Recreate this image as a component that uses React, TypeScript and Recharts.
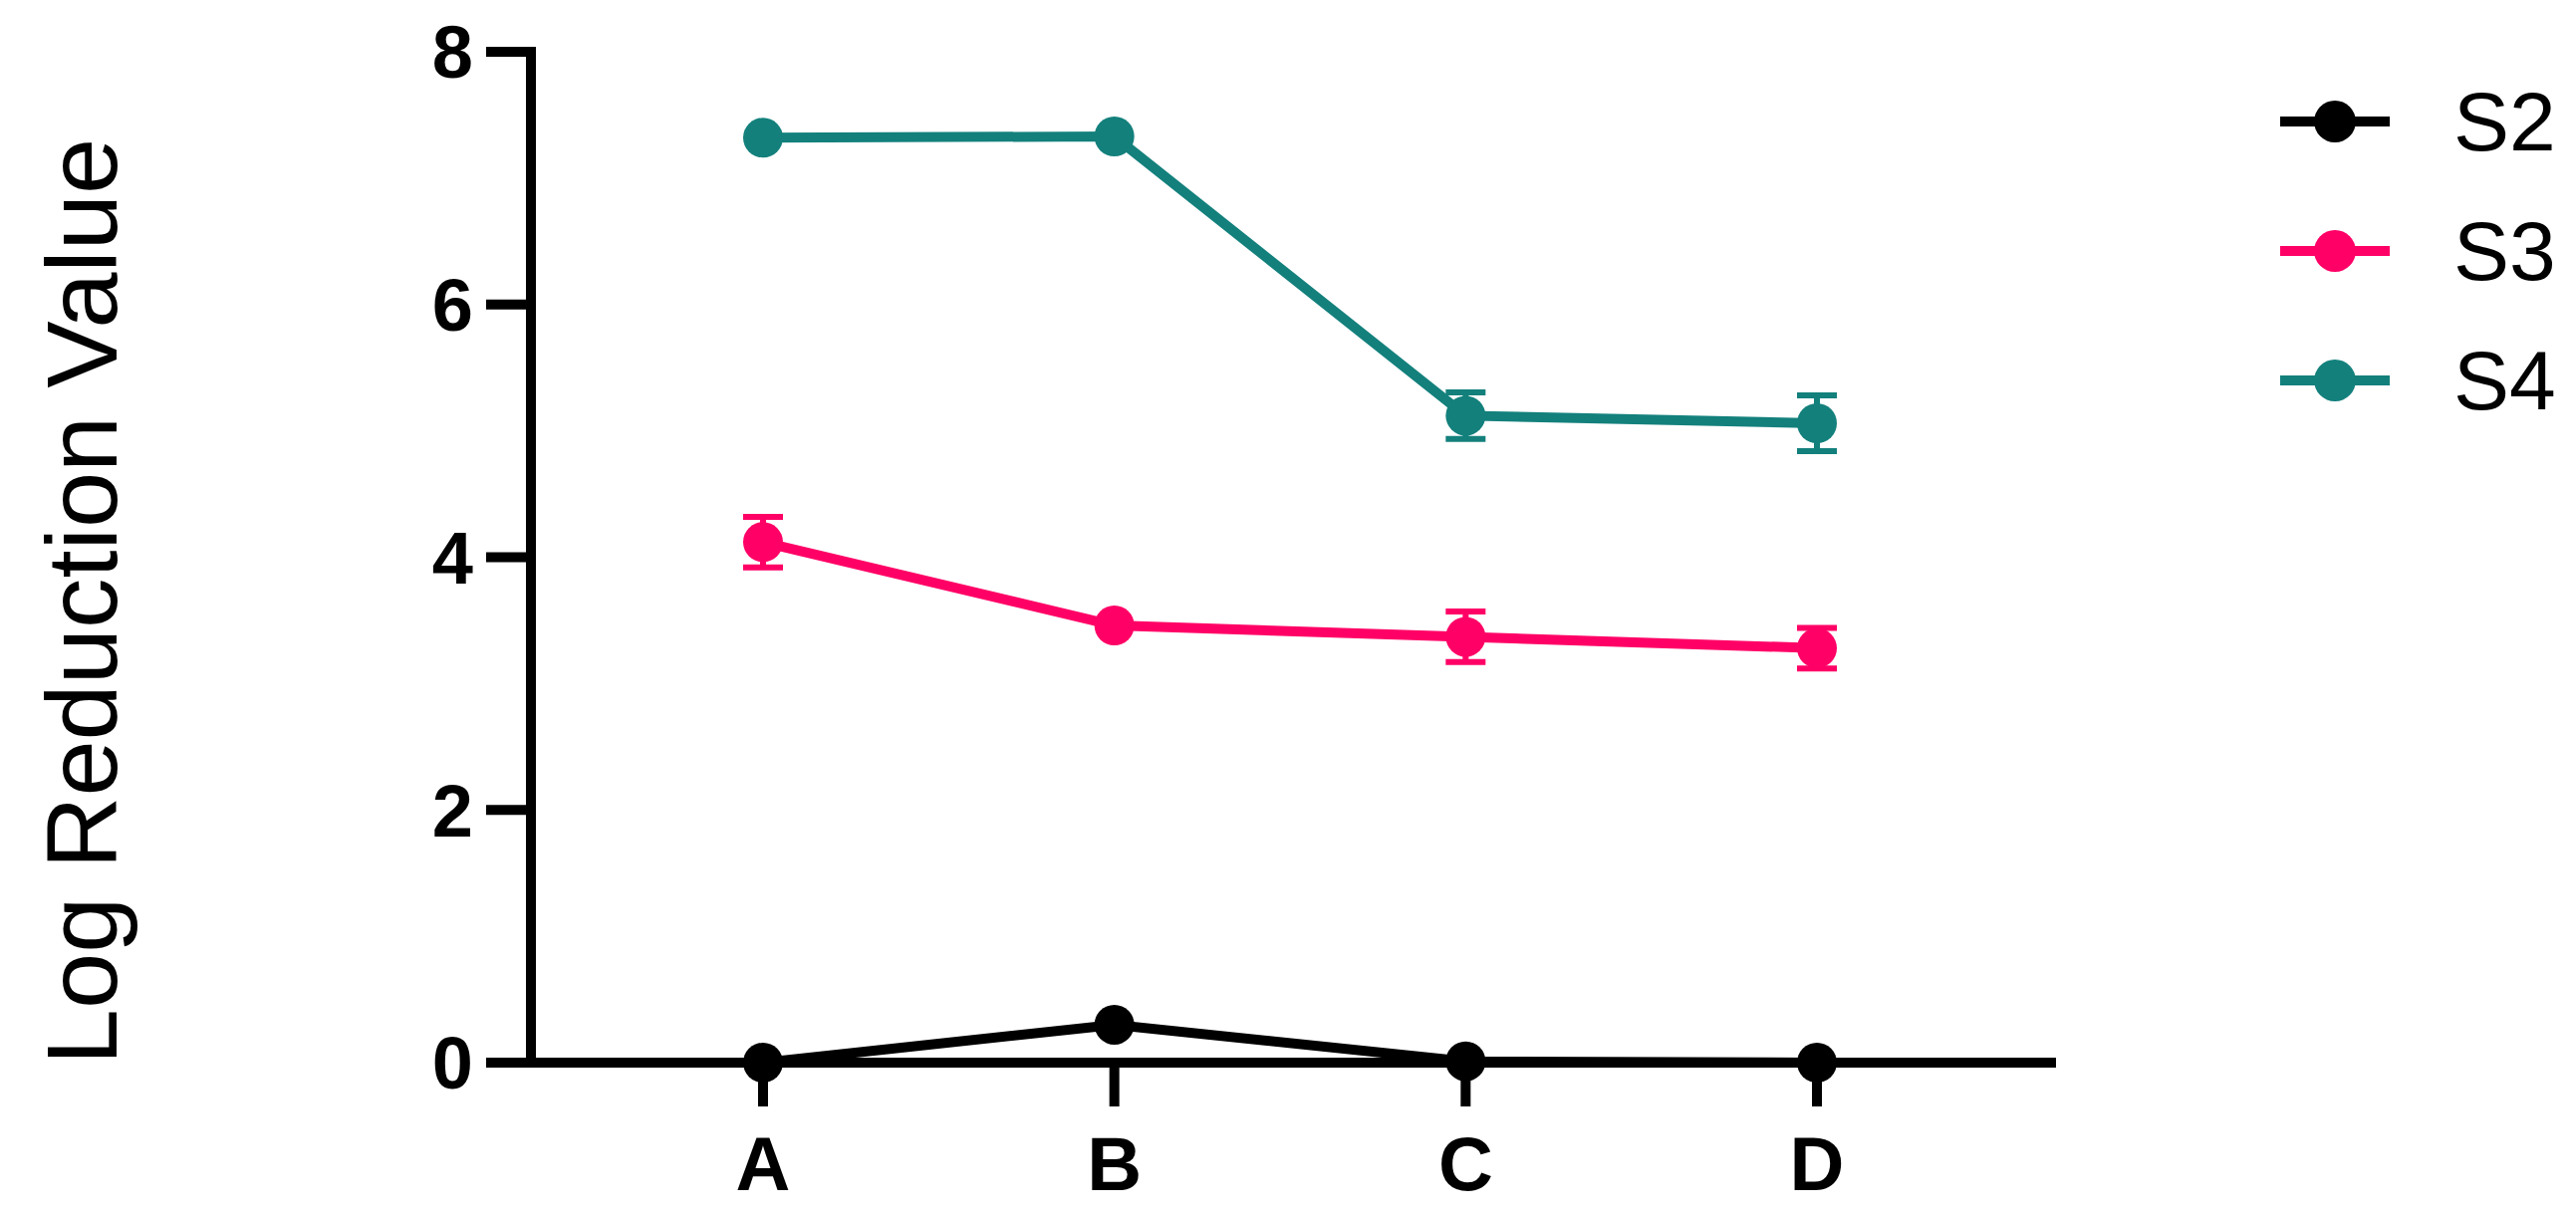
import React from "react";
import { LineChart, Line, XAxis, YAxis, ErrorBar, Legend } from "recharts";

const categories = ["A", "B", "C", "D"];
const s2Values = [0, 0.3, 0.01, 0];
const s3Values = [4.12, 3.46, 3.37, 3.28];
const s3Errors = [0.2, 0, 0.2, 0.16];
const s4Values = [7.32, 7.33, 5.12, 5.06];
const s4Errors = [0, 0, 0.185, 0.22];
const yTicks = [0, 2, 4, 6, 8];

const BLACK = "#000000";
const PINK = "#FF0066";
const TEAL = "#13807C";
const FONT = "'Liberation Sans', Arial, sans-serif";

const data = categories.map((cat, i) => ({
    cat,
    S2: s2Values[i],
    S3: s3Values[i],
    S3err: s3Errors[i],
    S4: s4Values[i],
    S4err: s4Errors[i],
}));

function YLabel() {
    return (
        <text x={117} y={604} transform="rotate(-90, 117, 604)" textAnchor="middle"
            fontFamily={FONT} fontSize={101} fill={BLACK}>
            Log Reduction Value
        </text>
    );
}

function renderLegend(props: any) {
    const payload = props.payload || [];
    return (
        <svg width={320} height={440} style={{ overflow: "visible" }}>
            {payload.map((entry: any, i: number) => {
                const cy = 62 + 130 * i;
                return (
                    <g key={entry.value}>
                        <line x1={9} x2={119} y1={cy} y2={cy} stroke={entry.color} strokeWidth={10} />
                        <circle cx={64} cy={cy} r={21} fill={entry.color} />
                        <text x={183} y={cy} dominantBaseline="central" fontFamily={FONT} fontSize={84} fill={BLACK}>
                            {entry.value}
                        </text>
                    </g>
                );
            })}
        </svg>
    );
}

export default function App() {
    const tickStyle = { fontFamily: FONT, fontSize: 74, fontWeight: 700, fill: BLACK };
    return (
        <div style={{ position: "absolute", left: 0, top: 0, width: 2586, height: 1222, background: "#fff" }}>
            <LineChart width={2586} height={1222} data={data}
                margin={{ top: 52, right: 522, bottom: 0, left: 0 }}>
                <XAxis dataKey="cat" height={155} padding={{ left: 233, right: 240 }}
                    tick={{ ...tickStyle, fontSize: 76 }} tickSize={44} tickMargin={30}
                    axisLine={{ stroke: BLACK, strokeWidth: 10 }}
                    tickLine={{ stroke: BLACK, strokeWidth: 10 }} />
                <YAxis width={533} domain={[0, 8]} ticks={yTicks} interval={0}
                    tick={tickStyle} tickSize={40} tickMargin={18}
                    axisLine={{ stroke: BLACK, strokeWidth: 10, strokeLinecap: "square" }}
                    tickLine={{ stroke: BLACK, strokeWidth: 10, strokeLinecap: "square" }}
                    label={<YLabel />} />
                <Legend layout="vertical" align="center" verticalAlign="middle"
                    wrapperStyle={{ left: 2280, top: 60, width: 320, height: 440, overflow: "visible" }}
                    content={renderLegend} />
                <Line name="S2" dataKey="S2" stroke={BLACK} strokeWidth={10} isAnimationActive={false}
                    dot={{ r: 20, fill: BLACK, stroke: BLACK, strokeWidth: 0 }} activeDot={false} />
                <Line name="S3" dataKey="S3" stroke={PINK} strokeWidth={10} isAnimationActive={false}
                    dot={{ r: 20, fill: PINK, stroke: PINK, strokeWidth: 0 }} activeDot={false}>
                    <ErrorBar dataKey="S3err" direction="y" width={20} strokeWidth={6} stroke={PINK} />
                </Line>
                <Line name="S4" dataKey="S4" stroke={TEAL} strokeWidth={10} isAnimationActive={false}
                    dot={{ r: 20, fill: TEAL, stroke: TEAL, strokeWidth: 0 }} activeDot={false}>
                    <ErrorBar dataKey="S4err" direction="y" width={20} strokeWidth={6} stroke={TEAL} />
                </Line>
            </LineChart>
        </div>
    );
}
